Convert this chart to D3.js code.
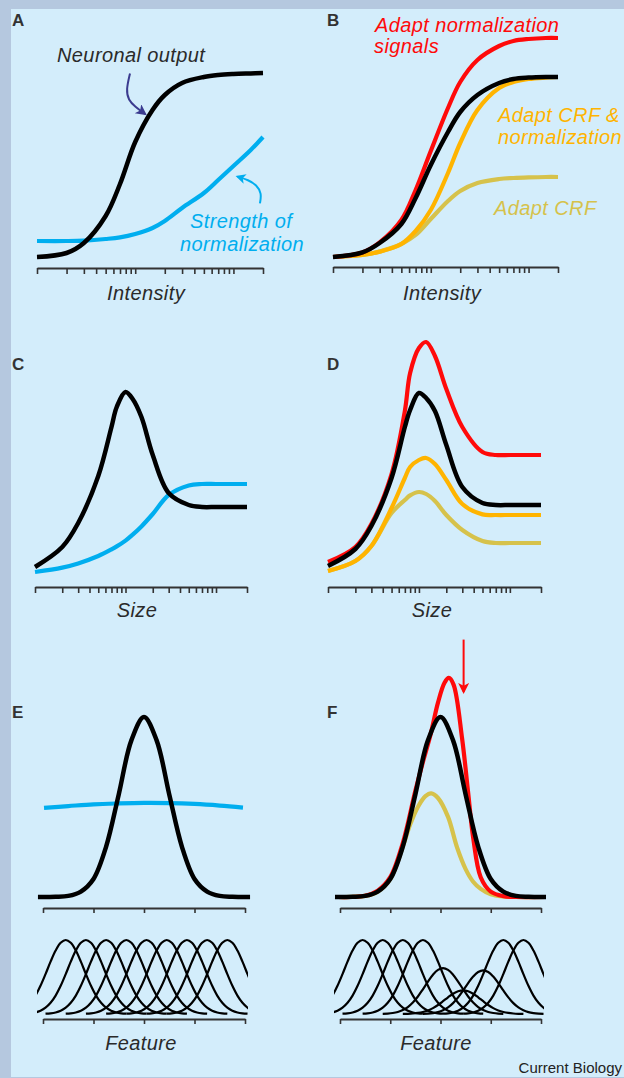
<!DOCTYPE html>
<html>
<head>
<meta charset="utf-8">
<script src="https://cdn.jsdelivr.net/npm/d3@7"></script>
<style>
  body { margin: 0; background: #d3edfb; }
  svg { display: block; font-family: "Liberation Sans", Arial, sans-serif; }
</style>
</head>
<body>
<div id="chart"></div>
<script>
// ---------- data ----------

// A & B : response vs intensity (log axis)
const intensity = [1, 2, 3, 5, 7, 10, 15, 20, 30, 50, 70, 100, 150, 200];
const intensityTicks = [1, 2, 3, 4, 5, 6, 7, 8, 9, 10, 20, 30, 40, 50, 60, 70, 80, 90, 100, 200];
const outputA   = [5.5, 7.5, 12.5, 26, 42, 63, 79, 86.5, 92.5, 95.5, 96.5, 97, 97.3, 97.5];
const normA     = [13.5, 13.5, 13.7, 14.5, 15.3, 17, 20, 23.5, 30, 37.5, 44, 51, 59, 65.5];
const outputB   = [5.5, 7.8, 12.5, 22, 35, 51.5, 68, 78, 86.5, 92.5, 94.5, 95.2, 95.5, 95.5];
const adaptNormB = [5.5, 7.8, 12.8, 24, 39, 58.5, 80, 93, 104, 111, 113.5, 114.5, 115, 115];
const adaptBothB = [5.5, 6.5, 8.2, 12, 18.5, 29, 47.5, 62.5, 79, 90, 93, 94.5, 95.2, 95.5];
const adaptCrfB  = [5.5, 6.5, 8.2, 12, 16.5, 24.5, 33.5, 38.5, 42.5, 44.5, 45, 45.3, 45.5, 45.5];

// C & D : response vs size (log axis)
const size = [1, 2, 3, 5, 7, 8, 10, 12, 15, 20, 30, 50, 70, 100, 150, 220];
const sizeTicks = [1, 2, 3, 4, 5, 6, 7, 8, 9, 10, 20, 30, 40, 50, 60, 70, 80, 90, 100, 220];
const outputC = [10, 20, 32, 55.5, 80, 90, 97.5, 94, 85, 66, 47, 41, 40, 40, 40, 40];
const normC   = [7.5, 9.7, 11.8, 15.5, 18.8, 20.3, 23.2, 26.2, 30.3, 36.5, 46, 50.8, 51.5, 51.5, 51.5, 51.5];
const outputD    = [10.5, 19, 30.5, 54.5, 80, 88.5, 97, 94.5, 88, 71, 50, 42, 41, 41, 41, 41];
const adaptNormD = [12.5, 20, 31.5, 56.5, 88, 107, 119.5, 122.5, 115.5, 99, 80, 67.5, 66, 66, 66, 66];
const adaptBothD = [8, 13, 20.5, 39.5, 54.5, 60, 63.5, 64.5, 61.5, 53.5, 41.5, 36.3, 36, 36, 36, 36];
const adaptCrfD  = [8, 13, 20.5, 37, 43.5, 45.8, 47.5, 46.5, 43, 36, 28.5, 23, 22, 22, 22, 22];

// E & F : response vs feature
const featureTicks = [-2, -1, 0, 1, 2];
const feature = [-2.1, -1.75, -1.5, -1.25, -1, -0.75, -0.5, -0.25, 0, 0.25, 0.5, 0.75, 1, 1.25, 1.5, 1.75, 2.1];
const outputE = [0, 0.1, 0.6, 3, 10, 28, 57, 87, 100, 87, 57, 28, 10, 3, 0.6, 0.1, 0];
const normFeature = [-1.98, -1.5, -1, -0.5, 0, 0.5, 1, 1.5, 1.96];
const normE       = [49.5, 50.5, 51.5, 52, 52.3, 52.2, 51.7, 50.8, 49.7];
const redFeature = [-2.04, -1.5, -1.25, -1, -0.75, -0.5, -0.35, -0.2, -0.05, 0.08, 0.165, 0.26, 0.43, 0.55, 0.65, 0.8, 1, 1.25, 1.5, 2.09];
const adaptNormF = [0, 0.7, 3.5, 11, 30, 59, 75, 90, 108, 119, 121.7, 118, 88, 58, 33, 11, 3, 0.5, 0, 0];
const crfFeature = [-2.04, -1.5, -1.25, -1, -0.75, -0.6, -0.45, -0.3, -0.185, -0.05, 0.15, 0.33, 0.5, 0.65, 0.8, 1, 1.25, 1.5, 2.09];
const adaptCrfF  = [0, 0.6, 3, 10, 28, 40.5, 50, 56, 57.6, 55, 44.5, 27.5, 15.5, 8.5, 4.5, 1.5, 0.3, 0, 0];

// tuning curve population (bottom of E & F)
const tuneCenters = [-1.55, -1.15, -0.75, -0.35, 0.05, 0.45, 0.85, 1.25, 1.65];
const tuneGainE = [1, 1, 1, 1, 1, 1, 1, 1, 1];
const tuneGainF = [1, 1, 1, 1, 0.62, 0.32, 0.59, 1, 1];
const tuneOffsets = [-1.2, -1.1, -1, -0.9, -0.8, -0.7, -0.6, -0.5, -0.4, -0.3, -0.2, -0.1, 0,
                     0.1, 0.2, 0.3, 0.4, 0.5, 0.6, 0.7, 0.8, 0.9, 1, 1.1, 1.2];
const tuneShape = [0.004, 0.009, 0.021, 0.044, 0.085, 0.151, 0.249, 0.381, 0.539, 0.707, 0.857, 0.962, 1,
                   0.962, 0.857, 0.707, 0.539, 0.381, 0.249, 0.151, 0.085, 0.044, 0.021, 0.009, 0.004];

// annotation arrows, in data units of their panel
const arrowNeuronal = [[8.85, 97.3], [8.07, 89], [8.53, 84], [9.94, 80.7], [12.6, 77]];
const arrowNorm = [[186, 32.3], [194, 37.3], [172, 41.5], [142, 44], [110, 45.7]];
const arrowF = [[0.46, 143], [0.46, 114]];

const colors = {
  black: "#000", cyan: "#00aeef", red: "#ff0a0a", orange: "#ffb400",
  olive: "#d6c24b", arrow: "#3b3b8f", axis: "#333", text: "#2a2a2a"
};

// ---------- drawing ----------
const W = 624, H = 1078;
const svg = d3.select("#chart").append("svg")
  .attr("width", W).attr("height", H);

svg.append("rect").attr("width", W).attr("height", H).attr("fill", "#d3edfb");
svg.append("rect").attr("width", W).attr("height", 9).attr("fill", "#b5c8df");
svg.append("rect").attr("width", 11).attr("height", H).attr("fill", "#b5c8df");
svg.append("rect").attr("y", H - 1).attr("width", W).attr("height", 1).attr("fill", "#b5c8df");

const defs = svg.append("defs");
function marker(id, color, len, wid) {
  defs.append("marker")
    .attr("id", id)
    .attr("viewBox", "0 0 10 10")
    .attr("refX", 8).attr("refY", 5)
    .attr("markerUnits", "userSpaceOnUse")
    .attr("markerWidth", len).attr("markerHeight", wid)
    .attr("orient", "auto")
    .append("path").attr("d", "M0,0L10,5L0,10L2.5,5z").attr("fill", color);
}
marker("headArrow", colors.arrow, 13, 11);
marker("headCyan", colors.cyan, 12, 10);
marker("headRed", colors.red, 16, 11);

// scales
const xA = d3.scaleLog().domain([1, 200]).range([37, 263]);
const xB = d3.scaleLog().domain([1, 200]).range([333, 558]);
const yAB = d3.scaleLinear().domain([0, 120]).range([268, 28]);
const xC = d3.scaleLog().domain([1, 220]).range([35, 247]);
const xD = d3.scaleLog().domain([1, 220]).range([328, 541]);
const yCD = d3.scaleLinear().domain([0, 130]).range([587, 327]);
const xE = d3.scaleLinear().domain([-2, 2]).range([43, 245]);
const xF = d3.scaleLinear().domain([-2, 2]).range([340, 541]);
const yEF = d3.scaleLinear().domain([0, 100]).range([897, 717]);
const yTune = d3.scaleLinear().domain([0, 1]).range([1014, 940]);

const smooth = d3.curveCatmullRom.alpha(0.5);

function curve(xs, vals, x, y, color, w) {
  const pts = xs.map((d, i) => [d, vals[i]]);
  svg.append("path")
    .datum(pts)
    .attr("fill", "none")
    .attr("stroke", color)
    .attr("stroke-width", w)
    .attr("d", d3.line().x(d => x(d[0])).y(d => y(d[1])).curve(smooth));
}

function axis(x, ticks, yPos, size) {
  const g = svg.append("g")
    .attr("transform", "translate(0," + yPos + ")")
    .call(d3.axisBottom(x).tickValues(ticks).tickSize(size).tickSizeOuter(0).tickFormat(""));
  g.select(".domain").attr("stroke", colors.axis).attr("stroke-width", 2);
  g.selectAll(".tick line").attr("stroke", colors.axis).attr("stroke-width", 1.6);
}

function arrow(pts, x, y, color, w, head) {
  svg.append("path")
    .datum(pts)
    .attr("fill", "none")
    .attr("stroke", color)
    .attr("stroke-width", w)
    .attr("marker-end", "url(#" + head + ")")
    .attr("d", d3.line().x(d => x(d[0])).y(d => y(d[1])).curve(d3.curveBasis));
}

function label(txt, x, y, color, opts) {
  const t = svg.append("text")
    .attr("x", x).attr("y", y)
    .attr("fill", color)
    .text(txt);
  opts = opts || {};
  t.attr("font-size", opts.size || 20)
    .attr("font-style", opts.italic === false ? "normal" : "italic")
    .attr("font-weight", opts.bold ? "bold" : "normal")
    .attr("letter-spacing", opts.ls == null ? 0.4 : opts.ls)
    .attr("text-anchor", opts.anchor || "start");
  return t;
}

function panelLetter(l, x, y) {
  label(l, x, y, "#333", { size: 17, italic: false, bold: true, ls: 0 });
}

// ----- A -----
panelLetter("A", 12, 26);
axis(xA, intensityTicks, 268, 6);
curve(intensity, normA, xA, yAB, colors.cyan, 4.2);
curve(intensity, outputA, xA, yAB, colors.black, 4.5);
arrow(arrowNeuronal, xA, yAB, colors.arrow, 2, "headArrow");
arrow(arrowNorm, xA, yAB, colors.cyan, 2, "headCyan");
label("Neuronal output", 57, 62, colors.text);
label("Strength of", 190, 228, colors.cyan);
label("normalization", 180, 251, colors.cyan);
label("Intensity", 146, 300, colors.text, { anchor: "middle" });

// ----- B -----
panelLetter("B", 327, 26);
axis(xB, intensityTicks, 267, 6);
curve(intensity, adaptCrfB, xB, yAB, colors.olive, 4.2);
curve(intensity, adaptBothB, xB, yAB, colors.orange, 4.2);
curve(intensity, adaptNormB, xB, yAB, colors.red, 4.2);
curve(intensity, outputB, xB, yAB, colors.black, 4.5);
label("Adapt normalization", 375, 32, colors.red);
label("signals", 374, 53, colors.red);
label("Adapt CRF &", 498, 122, colors.orange);
label("normalization", 498, 144, colors.orange);
label("Adapt CRF", 494, 215, colors.olive);
label("Intensity", 442, 300, colors.text, { anchor: "middle" });

// ----- C -----
panelLetter("C", 12, 370);
axis(xC, sizeTicks, 587, 6);
curve(size, normC, xC, yCD, colors.cyan, 4.2);
curve(size, outputC, xC, yCD, colors.black, 4.5);
label("Size", 137, 617, colors.text, { anchor: "middle" });

// ----- D -----
panelLetter("D", 327, 370);
axis(xD, sizeTicks, 587, 6);
curve(size, adaptCrfD, xD, yCD, colors.olive, 4.2);
curve(size, adaptBothD, xD, yCD, colors.orange, 4.2);
curve(size, adaptNormD, xD, yCD, colors.red, 4.2);
curve(size, outputD, xD, yCD, colors.black, 4.5);
label("Size", 432, 617, colors.text, { anchor: "middle" });

// ----- E & F tuning populations -----
function population(x, gains, clipId) {
  defs.append("clipPath").attr("id", clipId)
    .append("rect")
    .attr("x", x(-2.12)).attr("y", 900)
    .attr("width", x(2.06) - x(-2.12)).attr("height", 130);
  const g = svg.append("g").attr("clip-path", "url(#" + clipId + ")");
  tuneCenters.forEach((c, i) => {
    const pts = tuneOffsets.map((o, j) => [c + o, gains[i] * tuneShape[j]]);
    g.append("path")
      .datum(pts)
      .attr("fill", "none")
      .attr("stroke", "#000")
      .attr("stroke-width", 2.2)
      .attr("d", d3.line().x(d => x(d[0])).y(d => yTune(d[1])).curve(smooth));
  });
}

// ----- E -----
panelLetter("E", 12, 718);
axis(xE, featureTicks, 908, 5);
curve(normFeature, normE, xE, yEF, colors.cyan, 4.2);
curve(feature, outputE, xE, yEF, colors.black, 4.5);
population(xE, tuneGainE, "clipE");
axis(xE, featureTicks, 1019, 5);
label("Feature", 141, 1050, colors.text, { anchor: "middle" });

// ----- F -----
panelLetter("F", 327, 718);
axis(xF, featureTicks, 908, 5);
curve(crfFeature, adaptCrfF, xF, yEF, colors.olive, 4.2);
curve(redFeature, adaptNormF, xF, yEF, colors.red, 4.2);
curve(feature, outputE, xF, yEF, colors.black, 4.5);
arrow(arrowF, xF, yEF, colors.red, 2, "headRed");
population(xF, tuneGainF, "clipF");
axis(xF, featureTicks, 1019, 5);
label("Feature", 436, 1050, colors.text, { anchor: "middle" });

label("Current Biology", 622, 1073, "#222", { size: 15, italic: false, ls: 0, anchor: "end" });
</script>
</body>
</html>
